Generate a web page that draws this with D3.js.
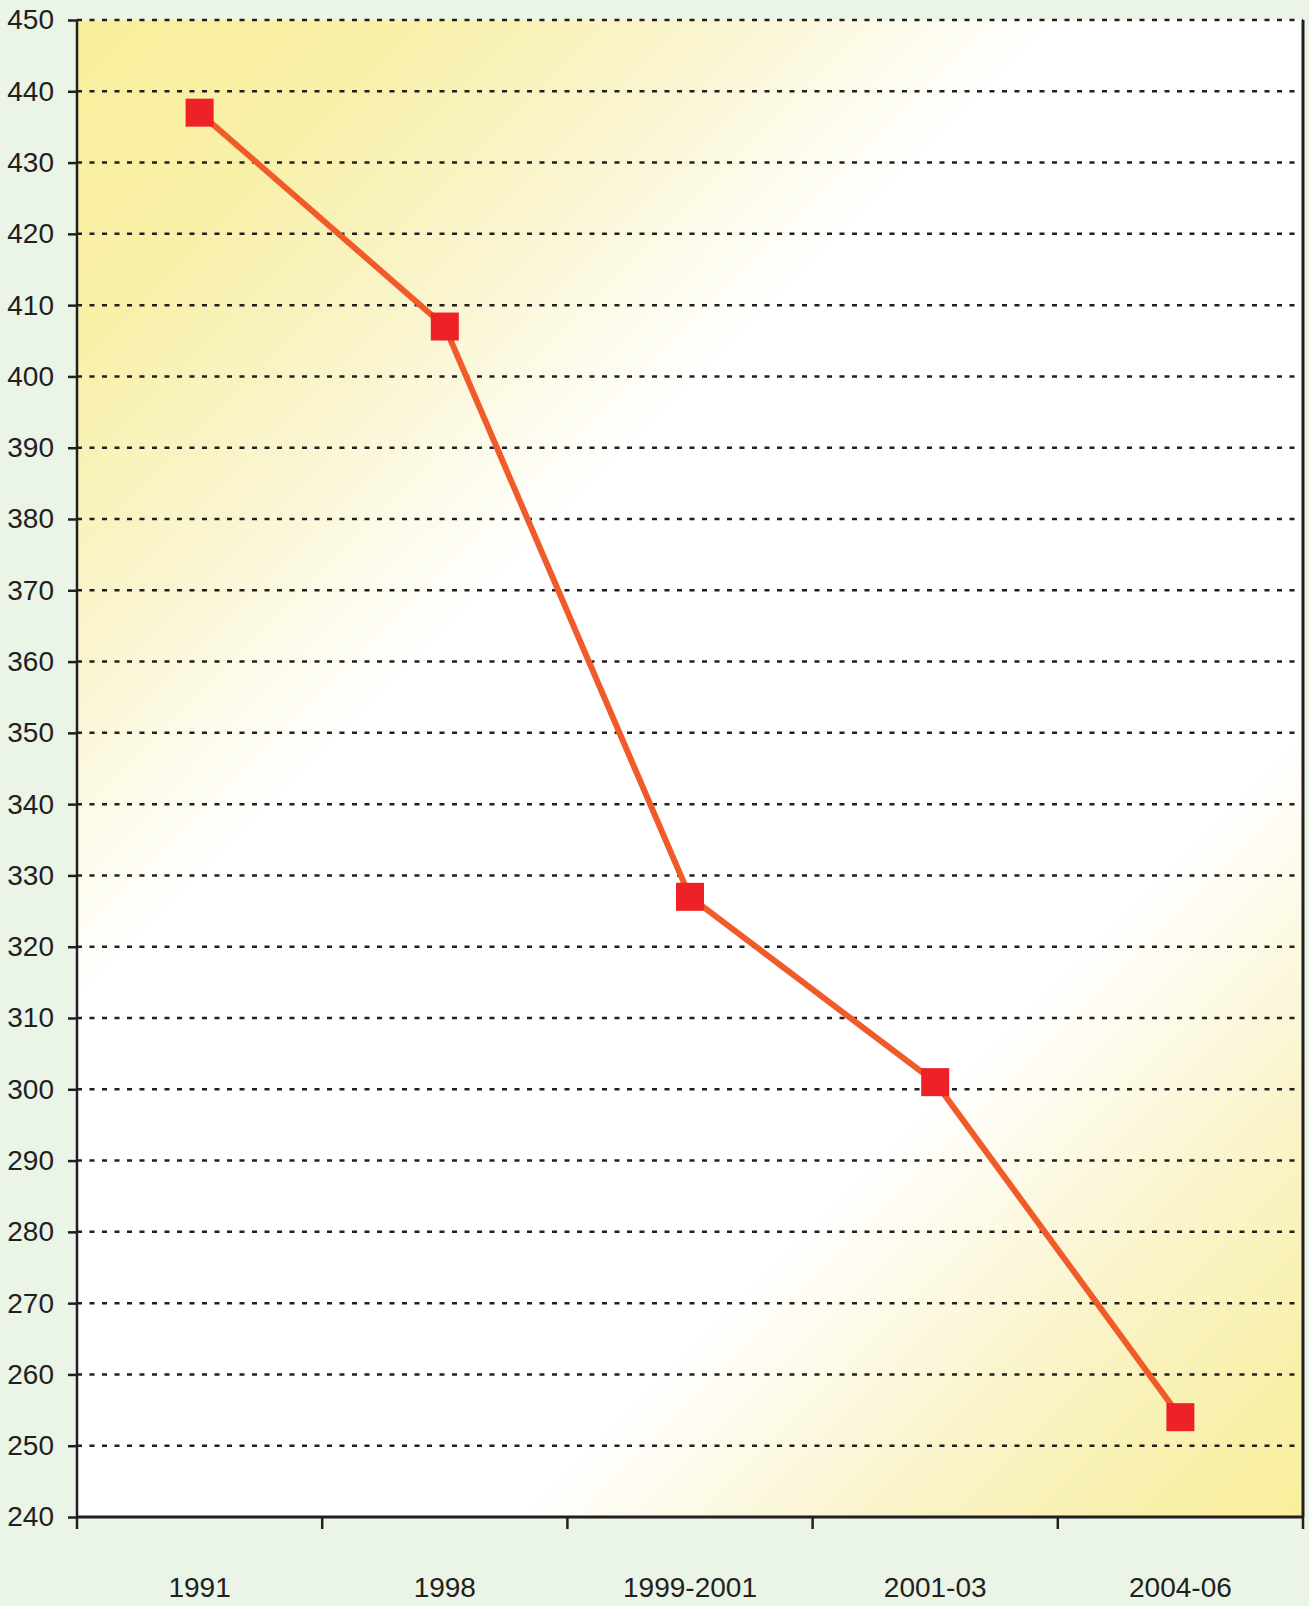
<!DOCTYPE html>
<html>
<head>
<meta charset="utf-8">
<script src="https://cdn.jsdelivr.net/npm/d3@7"></script>
<style>
  html, body { margin: 0; padding: 0; background: #eaf4e7; }
  svg { display: block; font-family: "Liberation Sans", Arial, sans-serif; }
</style>
</head>
<body>
<div id="chart"></div>
<script>
"use strict";

/* ── Data ── */
const periods = ["1991", "1998", "1999-2001", "2001-03", "2004-06"];
const values  = [437, 407, 327, 301, 254];
const yTicks  = d3.range(240, 451, 10);

/* ── Dimensions ── */
const W = 1309, H = 1606;
const margin = { top: 20, right: 6, bottom: 89, left: 77 };
const width  = W - margin.left - margin.right;
const height = H - margin.top - margin.bottom;

const svg = d3.select("#chart").append("svg")
  .attr("width", W).attr("height", H);

/* ── Background gradient for plot area (45° diagonal) ── */
const D = (width + height) / 2;
const defs = svg.append("defs");
const grad = defs.append("linearGradient")
  .attr("id", "bg")
  .attr("gradientUnits", "userSpaceOnUse")
  .attr("x1", 0).attr("y1", 0)
  .attr("x2", D).attr("y2", D);
grad.append("stop").attr("offset", "0%").attr("stop-color", "#f8ef9c");
grad.append("stop").attr("offset", "12%").attr("stop-color", "#f8f0a8");
grad.append("stop").attr("offset", "24%").attr("stop-color", "#faf5d0");
grad.append("stop").attr("offset", "36%").attr("stop-color", "#ffffff");
grad.append("stop").attr("offset", "71%").attr("stop-color", "#ffffff");
grad.append("stop").attr("offset", "84%").attr("stop-color", "#faf4cc");
grad.append("stop").attr("offset", "94%").attr("stop-color", "#f8f0aa");
grad.append("stop").attr("offset", "100%").attr("stop-color", "#f8ef9c");

const g = svg.append("g")
  .attr("transform", `translate(${margin.left},${margin.top})`);

g.append("rect")
  .attr("width", width).attr("height", height)
  .attr("fill", "url(#bg)");

/* ── Scales ── */
const x = d3.scaleBand().domain(periods).range([0, width]);
const y = d3.scaleLinear().domain([240, 450]).range([height, 0]);

/* ── Gridlines ── */
g.append("g")
  .selectAll("line")
  .data(yTicks.filter(d => d > 240))
  .join("line")
  .attr("x1", 0).attr("x2", width)
  .attr("y1", d => y(d)).attr("y2", d => y(d))
  .attr("stroke", "#231f20")
  .attr("stroke-width", 2.5)
  .attr("stroke-dasharray", "5,7.5");

/* ── Y axis ── */
g.append("g")
  .call(d3.axisLeft(y).tickValues(yTicks).tickSize(9).tickPadding(14).tickFormat(d3.format("d")))
  .call(a => {
    a.select(".domain").attr("stroke", "#231f20").attr("stroke-width", 2.5)
      .attr("d", `M0,${height}V0`);
    a.selectAll(".tick line").attr("stroke", "#231f20").attr("stroke-width", 2.5);
    a.selectAll(".tick text").attr("fill", "#231f20").attr("font-size", "28px")
      .attr("font-family", "Liberation Sans, Arial, sans-serif");
  });

/* ── X axis ── */
const xEdges = d3.range(periods.length + 1).map(i => i * x.bandwidth());
g.append("line")
  .attr("x1", 0).attr("x2", width)
  .attr("y1", height).attr("y2", height)
  .attr("stroke", "#231f20").attr("stroke-width", 3);
g.append("g").selectAll("line")
  .data(xEdges)
  .join("line")
  .attr("x1", d => d).attr("x2", d => d)
  .attr("y1", height).attr("y2", height + 12)
  .attr("stroke", "#231f20").attr("stroke-width", 2.5);
g.selectAll(".x-label")
  .data(periods)
  .join("text")
  .attr("class", "x-label")
  .attr("x", d => x(d) + x.bandwidth() / 2)
  .attr("y", height + 80)
  .attr("text-anchor", "middle")
  .attr("fill", "#231f20")
  .attr("font-size", "28px")
  .text(d => d);

/* ── Right border ── */
g.append("line")
  .attr("x1", width).attr("x2", width)
  .attr("y1", 0).attr("y2", height)
  .attr("stroke", "#231f20").attr("stroke-width", 3);

/* ── Line ── */
const pts = periods.map((p, i) => ({ p, v: values[i] }));
g.append("path")
  .datum(pts)
  .attr("fill", "none")
  .attr("stroke", "#f15a29")
  .attr("stroke-width", 6)
  .attr("d", d3.line().x(d => x(d.p) + x.bandwidth() / 2).y(d => y(d.v)));

/* ── Markers ── */
const ms = 28;
g.selectAll(".marker")
  .data(pts)
  .join("rect")
  .attr("class", "marker")
  .attr("x", d => x(d.p) + x.bandwidth() / 2 - ms / 2)
  .attr("y", d => y(d.v) - ms / 2)
  .attr("width", ms).attr("height", ms)
  .attr("fill", "#ed2127");
</script>
</body>
</html>
